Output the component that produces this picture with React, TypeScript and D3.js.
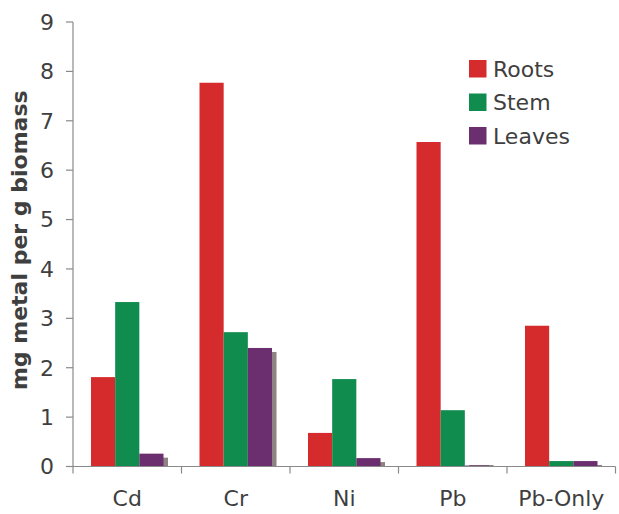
import React from "react";
import * as d3 from "d3";

const categories = ["Cd", "Cr", "Ni", "Pb", "Pb-Only"];
const seriesNames = ["Roots", "Stem", "Leaves"];
const roots = [1.81, 7.77, 0.68, 6.57, 2.85];
const stem = [3.33, 2.72, 1.77, 1.14, 0.11];
const leaves = [0.26, 2.4, 0.17, 0.02, 0.11];
const yTicks = [0, 1, 2, 3, 4, 5, 6, 7, 8, 9];
const colors = ["#d52b2d", "#118c4f", "#6b2e6e"];

const W = 619;
const H = 514;
const left = 73;
const right = 615.5;
const top = 22;
const bottom = 466.5;
const font = "Verdana, 'DejaVu Sans', sans-serif";
const textColor = "#3f3f3f";
const axisColor = "#8a8a8a";

export default function App() {
  const series = [roots, stem, leaves];
  const x0 = d3.scaleBand<string>().domain(categories).range([left, right]).paddingInner(0).paddingOuter(0);
  const x1 = d3
    .scaleBand<string>()
    .domain(seriesNames)
    .range([18, x0.bandwidth() - 18]);
  const y = d3.scaleLinear().domain([0, 9]).range([bottom, top]);
  const sdx = 4.5;
  const sdy = 4;

  return (
    <svg
      width={W}
      height={H}
      style={{ position: "absolute", left: 0, top: 0, background: "#fff" }}
      fontFamily={font}
    >
      {/* shadows (last series only visible) */}
      {categories.map((c, i) => {
        const v = leaves[i];
        const bx = x0(c)! + x1("Leaves")!;
        const by = y(v);
        return (
          <rect
            key={`s-${c}`}
            x={bx + sdx}
            y={Math.min(by + sdy, bottom - 1.5)}
            width={x1.bandwidth()}
            height={Math.max(bottom - (by + sdy), 1.5)}
            fill="#8e8282"
          />
        );
      })}
      {/* bars */}
      {categories.map((c, i) =>
        series.map((s, j) => {
          const v = s[i];
          const bx = x0(c)! + x1(seriesNames[j])!;
          return (
            <rect
              key={`b-${c}-${j}`}
              x={bx}
              y={y(v)}
              width={x1.bandwidth()}
              height={bottom - y(v)}
              fill={colors[j]}
            />
          );
        })
      )}
      {/* y axis */}
      <line x1={left} x2={left} y1={top} y2={bottom + 7} stroke={axisColor} strokeWidth={1.2} />
      {yTicks.map((t) => (
        <g key={`yt-${t}`}>
          <line x1={left - 7} x2={left} y1={y(t)} y2={y(t)} stroke={axisColor} strokeWidth={1.2} />
          <text
            x={left - 19}
            y={y(t)}
            dy="0.36em"
            textAnchor="end"
            fontSize={22}
            fill={textColor}
          >
            {t}
          </text>
        </g>
      ))}
      {/* x axis */}
      <line x1={left - 7} x2={right} y1={bottom} y2={bottom} stroke={axisColor} strokeWidth={1.2} />
      {categories.map((c, i) => (
        <g key={`xt-${c}`}>
          <line
            x1={x0(c)! + x0.bandwidth()}
            x2={x0(c)! + x0.bandwidth()}
            y1={bottom}
            y2={bottom + 7}
            stroke={axisColor}
            strokeWidth={1.2}
          />
          <text
            x={x0(c)! + x0.bandwidth() / 2}
            y={506}
            textAnchor="middle"
            fontSize={22}
            fill={textColor}
          >
            {c}
          </text>
        </g>
      ))}
      {/* y label */}
      <text
        transform={`translate(27, ${(top + bottom) / 2 - 4}) rotate(-90)`}
        textAnchor="middle"
        fontSize={22}
        fontWeight="bold"
        fill={textColor}
      >
        mg metal per g biomass
      </text>
      {/* legend */}
      {seriesNames.map((n, j) => (
        <g key={`lg-${n}`} transform={`translate(469, ${60 + j * 33.5})`}>
          <rect x={0} y={0} width={17.5} height={17.5} fill={colors[j]} />
          <text x={24} y={9} dy="0.36em" fontSize={22} fill={textColor}>
            {n}
          </text>
        </g>
      ))}
    </svg>
  );
}
